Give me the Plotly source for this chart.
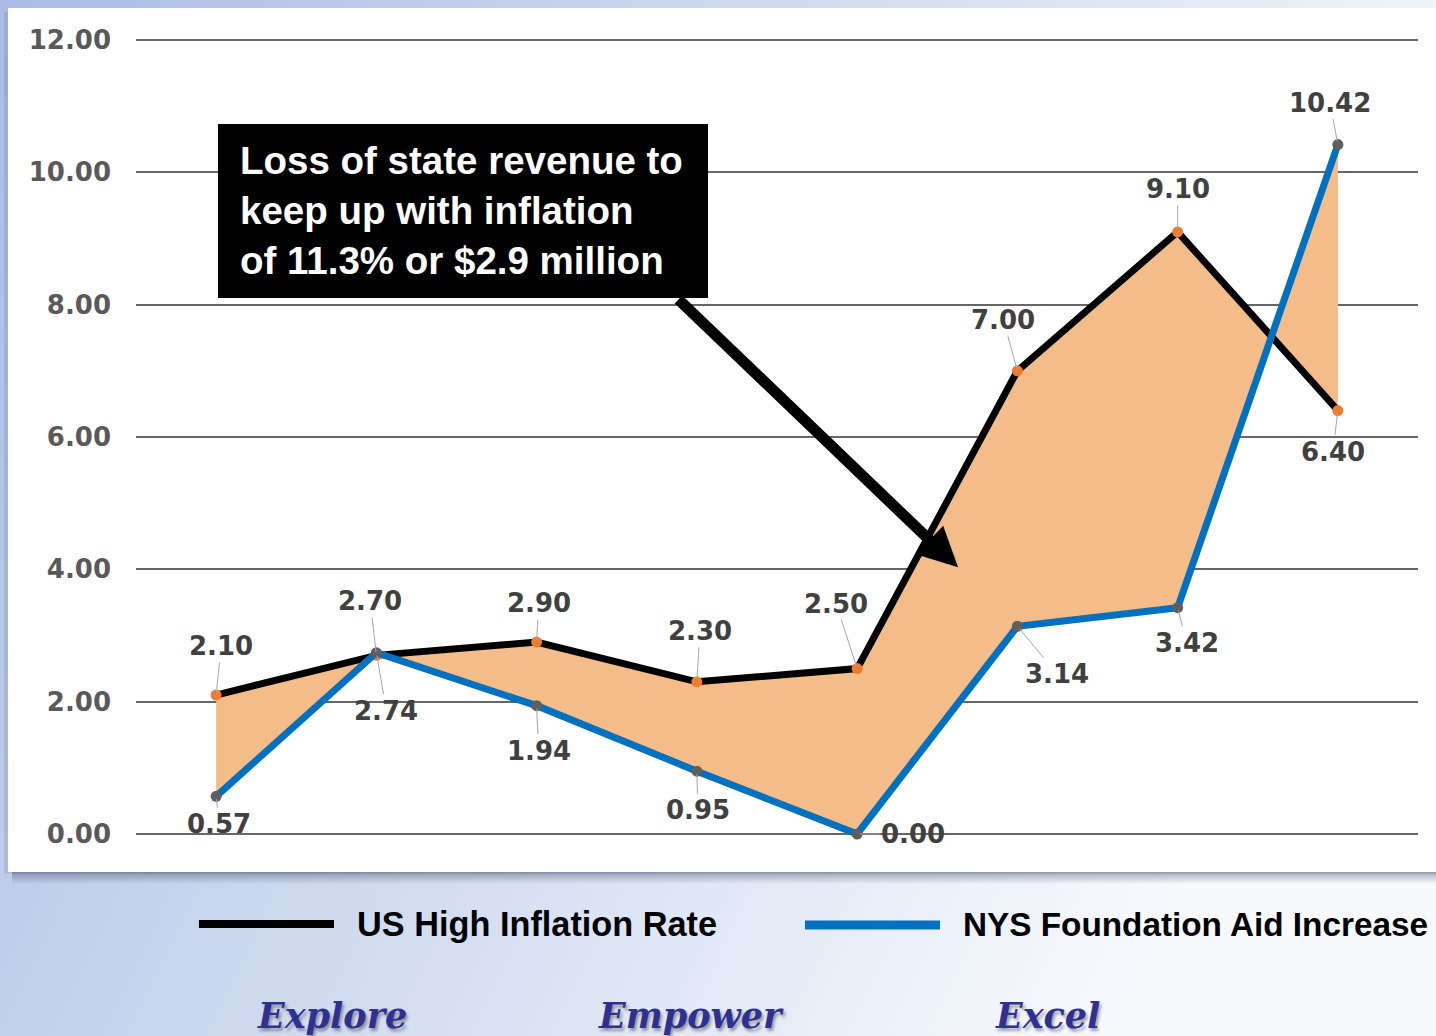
import base64
import plotly.graph_objects as go

# ---------------- data ----------------
categories = ["P1", "P2", "P3", "P4", "P5", "P6", "P7", "P8"]
inflation = [2.10, 2.70, 2.90, 2.30, 2.50, 7.00, 9.10, 6.40]
aid_increase = [0.57, 2.74, 1.94, 0.95, 0.00, 3.14, 3.42, 10.42]
series_names = ["US High Inflation Rate", "NYS Foundation Aid Increase"]
y_ticks = [0, 2, 4, 6, 8, 10, 12]
callout_text = "Loss of state revenue to<br>keep up with inflation<br>of 11.3% or $2.9 million"
footer_words = ["Explore", "Empower", "Excel"]

# ---------------- styling / layout ----------------
W, H = 1436, 1036
L, R, T, B = 136, 18, 38, 200
PW, PH = W - L - R, H - T - B


def px(x):
    return (x - L) / PW


def py(y):
    return (H - B - y) / PH


BLACK = "#000000"
BLUE = "#0070C0"
FILL = "#F4BC88"
LABEL_COLOR = "#404040"
LABEL_FONT = dict(family="DejaVu Sans", size=26, color=LABEL_COLOR, weight="bold")

# label offsets (pixels) relative to each point
infl_offsets = [(5, -49), (-6, -54), (2, -39), (3, -51), (-21, -65), (-14, -51), (0, -43), (-5, 41)]
aid_offsets = [(3, 28), (10, 58), (2, 45), (1, 39), (56, 0), (40, 48), (9, 35), (-8, -42)]

svg = (
    "<svg xmlns='http://www.w3.org/2000/svg' width='1436' height='1036' preserveAspectRatio='none'>"
    "<defs><linearGradient id='g' x1='0' y1='0' x2='1' y2='0.35'>"
    "<stop offset='0' stop-color='#a9bce5'/>"
    "<stop offset='0.5' stop-color='#d0dbef'/>"
    "<stop offset='1' stop-color='#f7f9fd'/>"
    "</linearGradient>"
    "<linearGradient id='s' x1='0' y1='0' x2='0' y2='1'>"
    "<stop offset='0' stop-color='rgba(30,40,70,0.55)'/>"
    "<stop offset='1' stop-color='rgba(30,40,70,0)'/>"
    "</linearGradient></defs>"
    "<rect width='1436' height='1036' fill='url(#g)'/>"
    "<rect x='12' y='866' width='1424' height='18' fill='url(#s)'/>"
    "</svg>"
)
bg_src = "data:image/svg+xml;base64," + base64.b64encode(svg.encode()).decode()

fig = go.Figure()

fig.add_trace(go.Scatter(
    x=categories, y=inflation, mode="lines+markers", name=series_names[0],
    line=dict(color=BLACK, width=7),
    marker=dict(color="#ED7D31", size=11),
    cliponaxis=False, showlegend=False, hoverinfo="skip",
))
fig.add_trace(go.Scatter(
    x=categories, y=aid_increase, mode="lines+markers", name=series_names[1],
    line=dict(color=BLUE, width=7),
    marker=dict(color="#5f5f5f", size=11),
    fill="tonexty", fillcolor=FILL,
    cliponaxis=False, showlegend=False, hoverinfo="skip",
))

shapes = []
# panel side shadow
shapes.append(dict(type="rect", xref="paper", yref="paper", layer="below",
                   x0=px(4), x1=px(1436), y0=py(874), y1=py(12),
                   fillcolor="rgba(40,55,95,0.12)", line=dict(width=0)))
# white panel
shapes.append(dict(type="rect", xref="paper", yref="paper", layer="below",
                   x0=px(8), x1=px(1440), y0=py(872), y1=py(8),
                   fillcolor="white", line=dict(width=0)))
# light baseline at zero
shapes.append(dict(type="line", xref="paper", yref="y", layer="between",
                   x0=0, x1=1, y0=0, y1=0, line=dict(color="#d9d9d9", width=2)))
# callout box
shapes.append(dict(type="rect", xref="paper", yref="paper", layer="above",
                   x0=px(218), x1=px(708), y0=py(298), y1=py(124),
                   fillcolor="black", line=dict(width=0)))
# legend line samples
shapes.append(dict(type="line", xref="paper", yref="paper",
                   x0=px(199), x1=px(334), y0=py(924), y1=py(924),
                   line=dict(color=BLACK, width=8)))
shapes.append(dict(type="line", xref="paper", yref="paper",
                   x0=px(805), x1=px(940), y0=py(925), y1=py(925),
                   line=dict(color=BLUE, width=9)))

annotations = []
# data labels with leader lines
for cat, v, (dx, dy) in zip(categories, inflation, infl_offsets):
    annotations.append(dict(x=cat, y=v, xref="x", yref="y", text=f"{v:.2f}",
                            showarrow=True, arrowhead=0, arrowwidth=1, arrowcolor="#a6a6a6",
                            ax=dx, ay=dy, standoff=3, font=LABEL_FONT))
for cat, v, (dx, dy) in zip(categories, aid_increase, aid_offsets):
    annotations.append(dict(x=cat, y=v, xref="x", yref="y", text=f"{v:.2f}",
                            showarrow=True, arrowhead=0, arrowwidth=1, arrowcolor="#a6a6a6",
                            ax=dx, ay=dy, standoff=3, font=LABEL_FONT))

# big arrow
annotations.append(dict(x=4.63, y=4.03, xref="x", yref="y", axref="x", ayref="y",
                        ax=2.876, ay=8.10, text="", showarrow=True,
                        arrowhead=2, arrowsize=0.72, arrowwidth=11, arrowcolor="black"))
# callout text
annotations.append(dict(x=px(238), y=py(211), xref="paper", yref="paper",
                        xanchor="left", yanchor="middle", align="left",
                        text=callout_text, showarrow=False,
                        font=dict(family="Liberation Sans, Arial", size=38.5, color="white", weight="bold")))
# legend texts
annotations.append(dict(x=px(355), y=py(924), xref="paper", yref="paper", xanchor="left",
                        yanchor="middle", text=series_names[0], showarrow=False,
                        font=dict(family="Liberation Sans, Arial", size=34.3, color="black", weight="bold")))
annotations.append(dict(x=px(961), y=py(924), xref="paper", yref="paper", xanchor="left",
                        yanchor="middle", text=series_names[1], showarrow=False,
                        font=dict(family="Liberation Sans, Arial", size=33.3, color="black", weight="bold")))
# footer words
for word, xpos in zip(footer_words, [255, 596, 993]):
    annotations.append(dict(x=px(xpos), y=py(1016), xref="paper", yref="paper", xanchor="left",
                            yanchor="middle", text=word, showarrow=False,
                            font=dict(family="DejaVu Serif", size=35, color="#2E3192",
                                      weight="bold", style="italic",
                                      shadow="2px 3px 3px rgba(0,0,0,0.35)")))

fig.update_layout(
    width=W, height=H,
    margin=dict(l=L, r=R, t=T, b=B, pad=0),
    paper_bgcolor="#c9d5ee", plot_bgcolor="white",
    showlegend=False,
    xaxis=dict(type="category", range=[-0.5, 7.5], showgrid=False, zeroline=False,
               showticklabels=False, showline=False, ticks=""),
    yaxis=dict(range=[-0.03, 12.03], tickvals=y_ticks, tickformat=".2f",
               showgrid=True, gridcolor="#666666", gridwidth=1.6, zeroline=False,
               showline=False, ticks="", ticklabelstandoff=24,
               tickfont=dict(family="DejaVu Sans", size=26, color="#595959", weight="bold")),
    images=[dict(source=bg_src, xref="paper", yref="paper", x=px(0), y=py(0),
                 sizex=W / PW, sizey=H / PH, sizing="stretch", xanchor="left",
                 yanchor="top", layer="below")],
    shapes=shapes,
    annotations=annotations,
)

fig.write_html("out.html")
